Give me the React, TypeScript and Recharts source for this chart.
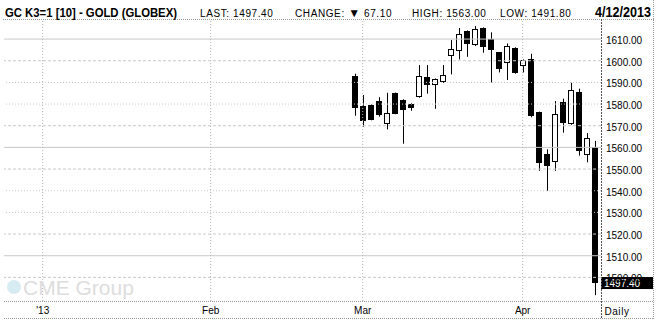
import React from 'react';
import { Bar, ComposedChart, ReferenceLine, XAxis, YAxis } from 'recharts';

// daily candles, Feb 28 .. Apr 12 2013
const dates = [
  'Feb 28', 'Mar 1', 'Mar 4', 'Mar 5', 'Mar 6', 'Mar 7', 'Mar 8', 'Mar 11', 'Mar 12', 'Mar 13',
  'Mar 14', 'Mar 15', 'Mar 18', 'Mar 19', 'Mar 20', 'Mar 21', 'Mar 22', 'Mar 25', 'Mar 26', 'Mar 27',
  'Mar 28', 'Apr 1', 'Apr 2', 'Apr 3', 'Apr 4', 'Apr 5', 'Apr 8', 'Apr 9', 'Apr 10', 'Apr 11', 'Apr 12'
];
const opens = [
  1593.0, 1579.1, 1579.5, 1581.4, 1570.6, 1585.1, 1581.9, 1580.0, 1583.1, 1592.5,
  1588.6, 1590.0, 1602.0, 1604.3, 1613.7, 1607.1, 1615.1, 1610.0, 1603.8, 1598.8,
  1605.8, 1597.4, 1600.6, 1576.2, 1556.9, 1553.1, 1580.9, 1570.6, 1585.5, 1556.3, 1560.2
];
const highs = [
  1594.0, 1584.2, 1579.8, 1583.2, 1585.2, 1585.3, 1582.2, 1580.5, 1598.0, 1598.0,
  1591.8, 1598.0, 1609.5, 1615.1, 1614.0, 1616.0, 1615.4, 1613.1, 1604.0, 1608.0,
  1606.2, 1600.6, 1603.2, 1576.5, 1559.1, 1581.4, 1582.5, 1589.8, 1587.1, 1566.6, 1563.0
];
const lows = [
  1574.6, 1569.5, 1572.5, 1574.2, 1568.3, 1575.3, 1561.7, 1576.9, 1582.9, 1584.8,
  1577.8, 1589.8, 1593.7, 1600.6, 1601.8, 1606.8, 1603.7, 1590.0, 1594.6, 1591.1,
  1594.0, 1594.6, 1573.9, 1549.2, 1540.0, 1549.2, 1566.8, 1570.4, 1556.2, 1553.1, 1491.8
];
const closes = [
  1578.3, 1572.3, 1572.8, 1575.1, 1575.7, 1575.5, 1577.4, 1578.3, 1592.9, 1588.6,
  1591.4, 1593.2, 1605.2, 1612.2, 1607.5, 1614.5, 1606.2, 1604.8, 1596.0, 1606.6,
  1594.5, 1600.2, 1574.5, 1552.6, 1551.5, 1575.2, 1571.4, 1586.3, 1558.2, 1564.5, 1497.4
];

// trading-day number of the first candle, counted from Jan 2 2013 = 0
const FIRST_DAY = 39;

const monthTicks = [0, 21, 40, 60];
const monthLabels = ["'13", 'Feb', 'Mar', 'Apr'];
const priceTicks = [1500, 1510, 1520, 1530, 1540, 1550, 1560, 1570, 1580, 1590, 1600, 1610];

const LAST = 1497.4;
const CHANGE = 67.1;
const HIGH = 1563.0;
const LOW = 1491.8;

const data = dates.map((date, i) => ({
  date,
  day: FIRST_DAY + i,
  open: opens[i],
  high: highs[i],
  low: lows[i],
  close: closes[i]
}));

const FONT = '"Liberation Sans", Arial, sans-serif';

const Candle = (props: any) => {
  const { x, y, width, height, payload } = props;
  if (!payload || height == null) return null;
  const { open, close, high, low } = payload;
  const span = high - low || 1;
  const toY = (v: number) => y + ((high - v) / span) * height;
  const cx = Math.round(x + width / 2) + 0.5;
  const top = Math.round(toY(Math.max(open, close)));
  const bottom = Math.round(toY(Math.min(open, close)));
  const up = close >= open;
  return (
    <g>
      <line x1={cx} x2={cx} y1={y} y2={y + height} stroke="#000" strokeWidth={1} />
      {up ? (
        <rect x={cx - 3} y={top + 0.5} width={5} height={Math.max(bottom - top - 1, 1)} fill="#fff" stroke="#000" />
      ) : (
        <rect x={cx - 3.5} y={top} width={6} height={Math.max(bottom - top, 1)} fill="#000" />
      )}
    </g>
  );
};

const PriceTick = (props: any) => {
  const { x, y, payload } = props;
  return (
    <text x={x} y={y} dy={5} fontSize={10} fontFamily={FONT} fill="#000" textAnchor="start">
      {Number(payload.value).toFixed(2)}
    </text>
  );
};

const LastLabel = (props: any) => {
  const { viewBox } = props;
  if (!viewBox) return null;
  const left = viewBox.x + viewBox.width;
  return (
    <g>
      <rect x={left} y={viewBox.y - 6} width={52} height={12} fill="#000" />
      <text x={left + 3} y={viewBox.y + 4} fontSize={10} fontFamily={FONT} fill="#fff">
        {LAST.toFixed(2)}
      </text>
    </g>
  );
};

const gridStyle = (v: number) => {
  const d = (((v - 1510) % 50) + 50) % 50;
  if (d === 0) return undefined;
  if (d === 10 || d === 40) return '3 2';
  return '1 2';
};

const App: React.FC = () => {
  return (
    <div style={{ position: 'relative', width: 670, height: 323, background: '#fff' }}>
      <style>{'body{margin:0}'}</style>
      <ComposedChart width={670} height={323} data={data} margin={{ top: 20, right: 16, bottom: 5, left: 4 }}>
        <XAxis
          type="number"
          dataKey="day"
          domain={[-4.84, 69.79]}
          allowDataOverflow
          ticks={monthTicks}
          interval={0}
          tickFormatter={(v: number) => monthLabels[monthTicks.indexOf(v)] ?? ''}
          axisLine={false}
          tickLine={false}
          tickSize={0}
          tickMargin={6}
          height={17}
          tick={{ fontSize: 10, fill: '#000', fontFamily: FONT }}
        />
        <YAxis
          orientation="right"
          domain={[1489.1, 1618.8]}
          allowDataOverflow
          ticks={priceTicks}
          interval={0}
          axisLine={false}
          tickLine={false}
          tickSize={0}
          tickMargin={5}
          width={53}
          tick={<PriceTick />}
        />
        {priceTicks.map((v) => (
          <ReferenceLine key={`h${v}`} y={v} stroke="#c8c8c8" strokeDasharray={gridStyle(v)} />
        ))}
        {monthTicks.map((v) => (
          <ReferenceLine key={`v${v}`} x={v} stroke="#b4b4b4" strokeDasharray="1 2" />
        ))}
        <Bar
          dataKey={(d: any) => [d.low, d.high]}
          barSize={6}
          shape={<Candle />}
          isAnimationActive={false}
        />
        <ReferenceLine y={LAST} stroke="none" label={<LastLabel />} />
      </ComposedChart>
      <svg
        width={670}
        height={323}
        style={{ position: 'absolute', left: 0, top: 0, pointerEvents: 'none' }}
      >
        <g opacity={0.9}>
          <circle cx={14} cy={287} r={7} fill="#d3e9f2" />
          <text x={23} y={295} fontSize={21} fontFamily={FONT} fill="#dadada">
            CME Group
          </text>
        </g>
        <line x1={3} x2={654} y1={19.5} y2={19.5} stroke="#9a9a9a" strokeDasharray="1 1" />
        <line x1={4} x2={654} y1={301.5} y2={301.5} stroke="#9a9a9a" strokeDasharray="1 1" />
        <line x1={4} x2={654} y1={318.5} y2={318.5} stroke="#9a9a9a" strokeDasharray="1 1" />
        <line x1={653.5} x2={653.5} y1={0} y2={319} stroke="#9a9a9a" strokeDasharray="1 1" />
        <line x1={601.5} x2={601.5} y1={19} y2={319} stroke="#555" strokeDasharray="2 1" />
        <text x={5} y={17} fontSize={13} fontWeight="bold" fontFamily={FONT} fill="#000" textLength={172} lengthAdjust="spacingAndGlyphs">
          GC K3=1 [10] - GOLD (GLOBEX)
        </text>
        <text x={200} y={16.5} fontSize={10} letterSpacing={0.6} fontFamily={FONT} fill="#000">
          LAST: {LAST.toFixed(2)}
        </text>
        <text x={295} y={16.5} fontSize={10} letterSpacing={0.6} fontFamily={FONT} fill="#000">
          CHANGE: <tspan fontSize={12}>▼</tspan> {CHANGE.toFixed(2)}
        </text>
        <text x={412} y={16.5} fontSize={10} letterSpacing={0.6} fontFamily={FONT} fill="#000">
          HIGH: {HIGH.toFixed(2)}
        </text>
        <text x={500} y={16.5} fontSize={10} letterSpacing={0.6} fontFamily={FONT} fill="#000">
          LOW: {LOW.toFixed(2)}
        </text>
        <text x={595} y={17} fontSize={14} fontWeight="bold" fontFamily={FONT} fill="#000" textLength={56} lengthAdjust="spacingAndGlyphs">
          4/12/2013
        </text>
        <text x={617} y={314.5} fontSize={10} letterSpacing={0.6} fontFamily={FONT} fill="#000" textAnchor="middle">
          Daily
        </text>
      </svg>
    </div>
  );
};

export default App;
